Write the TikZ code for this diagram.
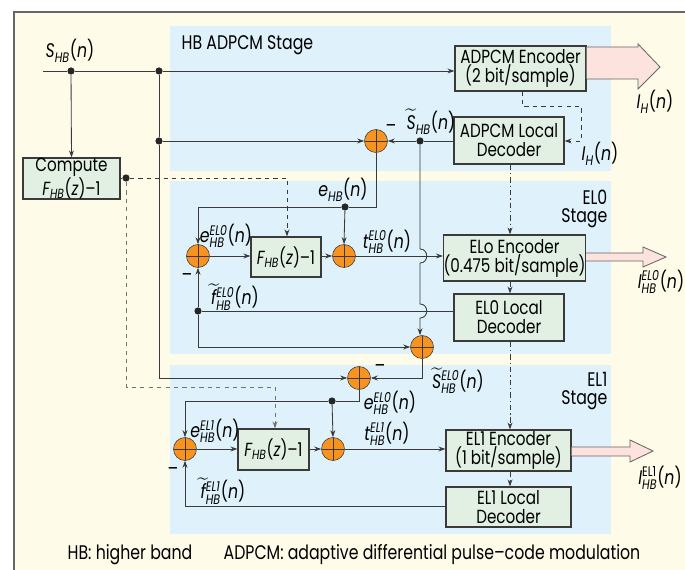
\documentclass[tikz,border=0pt]{standalone}
\usepackage{amsmath}
\usepackage{fontspec}
\setmainfont{Poppins}[FakeStretch=0.8]
\usetikzlibrary{arrows.meta, positioning, calc}

\definecolor{cream}{HTML}{FEFBE9}
\definecolor{paleblue}{HTML}{DFF1FA}
\definecolor{palegreen}{HTML}{E1F0E3}
\definecolor{sumorange}{HTML}{F7931E}
\definecolor{arrowpink}{HTML}{FDE3DE}
\definecolor{wire}{HTML}{3A3A3A}

\newcommand{\sgl}[3]{$\textit{#1}^{\textit{#2}}_{\textit{#3}}$(\textit{n})}
\newcommand{\tsgl}[3]{$\widetilde{\textit{#1}}{}^{\textit{#2}}_{\textit{#3}}$(\textit{n})}
\newcommand{\fhb}{$\textit{F}_{\textit{HB}}$(\textit{z})--1}

\tikzset{
  blk/.style={draw=wire, fill=palegreen, thick, align=center, inner sep=0pt, font=\fontsize{13.5}{13.5}\selectfont},
  sumc/.style={circle, draw=wire, fill=sumorange, minimum size=0.575cm, inner sep=0pt,
    path picture={\draw[wire] (path picture bounding box.north) -- (path picture bounding box.south)
      (path picture bounding box.west) -- (path picture bounding box.east);}},
  dot/.style={circle, fill=black!85, inner sep=0pt, minimum size=0.18cm},
  lbl/.style={font=\fontsize{14}{14}\selectfont, inner sep=1pt},
  sig/.style={draw=wire, line width=0.6pt},
  arr/.style={sig, -{Stealth[length=5pt, width=3.5pt]}},
  dsh/.style={arr, dashed},
  dshdot/.style={arr, dash pattern=on 4pt off 2pt on 1pt off 2pt},
  fat/.style={draw=gray!80!black, fill=arrowpink, line width=0.6pt}
}

\begin{document}
\begin{tikzpicture}[x=0.025cm, y=-0.025cm]
  \useasboundingbox (0,0) rectangle (685,570);
  \fill[cream] (14,12) rectangle (685,570);
  \draw[gray!80!black, line width=0.8pt] (14,570) -- (14,12) -- (685,12);

  \fill[paleblue] (170,26) rectangle (611,171);
  \fill[paleblue] (170,181) rectangle (611,354);
  \fill[paleblue] (170,365) rectangle (611,534);

  \node[lbl, anchor=west] (hbtitle) at (180,45) {HB ADPCM Stage};
  \node[lbl, anchor=east, align=right] (eltitle0) at (609,209) {EL0\\[-1pt]Stage};
  \node[lbl, anchor=east, align=right] (eltitle1) at (609,391) {EL1\\[-1pt]Stage};

  \node[blk, minimum width=97*0.025cm, minimum height=41*0.025cm] (comp) at (71.5,178.5) {Compute\\\fhb};
  \node[blk, minimum width=131*0.025cm, minimum height=45*0.025cm] (enc) at (520.5,68.5) {ADPCM Encoder\\(2 bit/sample)};
  \node[blk, minimum width=110*0.025cm, minimum height=47*0.025cm] (dec) at (509,140.5) {ADPCM Local\\Decoder};
  \node[blk, minimum width=70*0.025cm, minimum height=40*0.025cm] (fz0) at (286,257) {\fhb};
  \node[blk, minimum width=137*0.025cm, minimum height=46*0.025cm] (enc0) at (514.5,258) {ELo Encoder\\(0.475 bit/sample)};
  \node[blk, minimum width=110*0.025cm, minimum height=47*0.025cm] (dec0) at (509,317.5) {EL0 Local\\Decoder};
  \node[blk, minimum width=71*0.025cm, minimum height=41*0.025cm] (fz1) at (273.5,449.5) {\fhb};
  \node[blk, minimum width=125*0.025cm, minimum height=41*0.025cm] (enc1) at (508.5,450.5) {EL1 Encoder\\(1 bit/sample)};
  \node[blk, minimum width=125*0.025cm, minimum height=40*0.025cm] (dec1) at (508.5,507) {EL1 Local\\Decoder};

  \node[sumc] (sub0) at (376,141) {};
  \node[sumc] (sumin0) at (198,256) {};
  \node[sumc] (add0) at (344,256) {};
  \node[sumc] (rec0) at (422,347) {};
  \node[sumc] (sub1) at (359,378) {};
  \node[sumc] (sumin1) at (185,449) {};
  \node[sumc] (add1) at (333,449) {};

  \coordinate (in) at (43,71);
  \node[dot] (din) at (71,71) {};
  \node[dot] (dtop) at (159,71) {};
  \node[dot] (dmid) at (159,141) {};
  \node[dot] (dshb) at (420,141) {};
  \node[dot] (dehb) at (345,207) {};
  \node[dot] (dft0) at (198,311) {};
  \node[dot] (deh1) at (332,401) {};
  \node[dot] (dcomp) at (126,178) {};

  \draw[arr] (in) -- (din) -- (dtop) -- (enc.west |- dtop);
  \draw[arr] (din) -- (comp.north);
  \draw[arr] (dmid) -- (sub0.west);
  \draw[arr] (dtop) -- (dmid) -- (159,378) -- (sub1.west);
  \draw[arr] (dec.west |- dshb) -- (dshb) -- (sub0.east);
  \draw[dsh] (enc.south -| 522,0) -- (522,106) -- (581,106) -- (581,141) -- (dec.east |- dshb);

  \draw[sig] (sub0.south) -- (376,207) -- (dehb);
  \draw[arr] (dehb) -- (198,207) -- (sumin0.north);
  \draw[arr] (dehb) -- (add0.north);
  \draw[arr] (sumin0.east) -- (fz0.west |- sumin0);
  \draw[arr] (fz0.east |- add0) -- (add0.west);
  \draw[arr] (add0.east) -- (enc0.west |- add0);
  \draw[sig] (dec0.west |- dft0) -- (dft0);
  \draw[arr] (dft0) -- (sumin0.south);
  \draw[arr] (dft0) -- (198,347) -- (rec0.west);
  \draw[arr] (dshb) -- (420,249) .. controls (429,249) and (429,263) .. (420,263)
    -- (420,304) .. controls (429,304) and (429,318) .. (420,318) -- (rec0.north -| 420,0);
  \draw[arr] (rec0.south) -- (422,378) -- (sub1.east);

  \draw[sig] (sub1.south) -- (359,401) -- (deh1);
  \draw[arr] (deh1) -- (185,401) -- (sumin1.north);
  \draw[arr] (deh1) -- (add1.north);
  \draw[arr] (sumin1.east) -- (fz1.west |- sumin1);
  \draw[arr] (fz1.east |- add1) -- (add1.west);
  \draw[arr] (add1.east) -- (enc1.west |- add1);
  \draw[arr] (dec1.west |- 0,506) -- (185,506) -- (sumin1.south);

  \draw[dsh] (dcomp) -- (287,178) -- (fz0.north -| 287,0);
  \draw[dsh, draw=gray!90!black] (dcomp) -- (126,387) -- (275,387) -- (fz1.north -| 275,0);
  \draw[sig, line width=0.4pt] (comp.east |- dcomp) -- (dcomp);

  \draw[dshdot] (dec.south -| 510,0) -- (enc0.north -| 510,0);
  \draw[dshdot] (enc0.south -| 510,0) -- (dec0.north -| 510,0);
  \draw[dshdot] (dec0.south -| 510,0) -- (enc1.north -| 510,0);
  \draw[dshdot] (enc1.south -| 510,0) -- (dec1.north -| 510,0);

  \draw[fat] (enc.east |- 0,47) -- (638,47) -- (638,44) -- (660,67) -- (638,89) -- (638,79) -- (enc.east |- 0,79);
  \draw[fat] (enc0.east |- 0,253) -- (643,253) -- (643,247) -- (666,257) -- (643,267) -- (643,261) -- (enc0.east |- 0,261);
  \draw[fat] (enc1.east |- 0,447) -- (630,447) -- (630,440) -- (653,451) -- (630,462) -- (630,456) -- (enc1.east |- 0,456);

  \node[lbl] (lsin) at (70,51) {\sgl{S}{}{HB}};
  \node[lbl] (lstil) at (431,122) {\tsgl{S}{}{HB}};
  \node[lbl] (lih) at (655,102) {\sgl{I}{}{H}};
  \node[lbl] (lihdec) at (600,154) {\sgl{I}{}{H}};
  \node[lbl] (lehb) at (343,190) {\sgl{e}{}{HB}};
  \node[lbl] (le0) at (226,236) {\sgl{e}{EL0}{HB}};
  \node[lbl] (lt0) at (387,242) {\sgl{t}{EL0}{HB}};
  \node[lbl] (lf0) at (235,297) {\tsgl{f}{EL0}{HB}};
  \node[lbl] (li0) at (661,282) {\sgl{I}{EL0}{HB}};
  \node[lbl] (ls0) at (458,381) {\tsgl{S}{EL0}{HB}};
  \node[lbl] (leb0) at (390,403) {\sgl{e}{EL0}{HB}};
  \node[lbl] (le1) at (215,431) {\sgl{e}{EL1}{HB}};
  \node[lbl] (lt1) at (387,434) {\sgl{t}{EL1}{HB}};
  \node[lbl] (lf1) at (223,491) {\tsgl{f}{EL1}{HB}};
  \node[lbl] (li1) at (660,478) {$\textit{I}^{\text{EL1}}_{\textit{HB}}$(\textit{n})};

  \node[lbl] (m0) at (391,129) {--};
  \node[lbl] (m1) at (187,278) {--};
  \node[lbl] (m2) at (380,369) {--};
  \node[lbl] (m3) at (173,472) {--};

  \node[lbl] (cap1) at (130,555) {HB: higher band};
  \node[lbl] (cap2) at (432,555) {ADPCM: adaptive differential pulse--code modulation};
\end{tikzpicture}
\end{document}
